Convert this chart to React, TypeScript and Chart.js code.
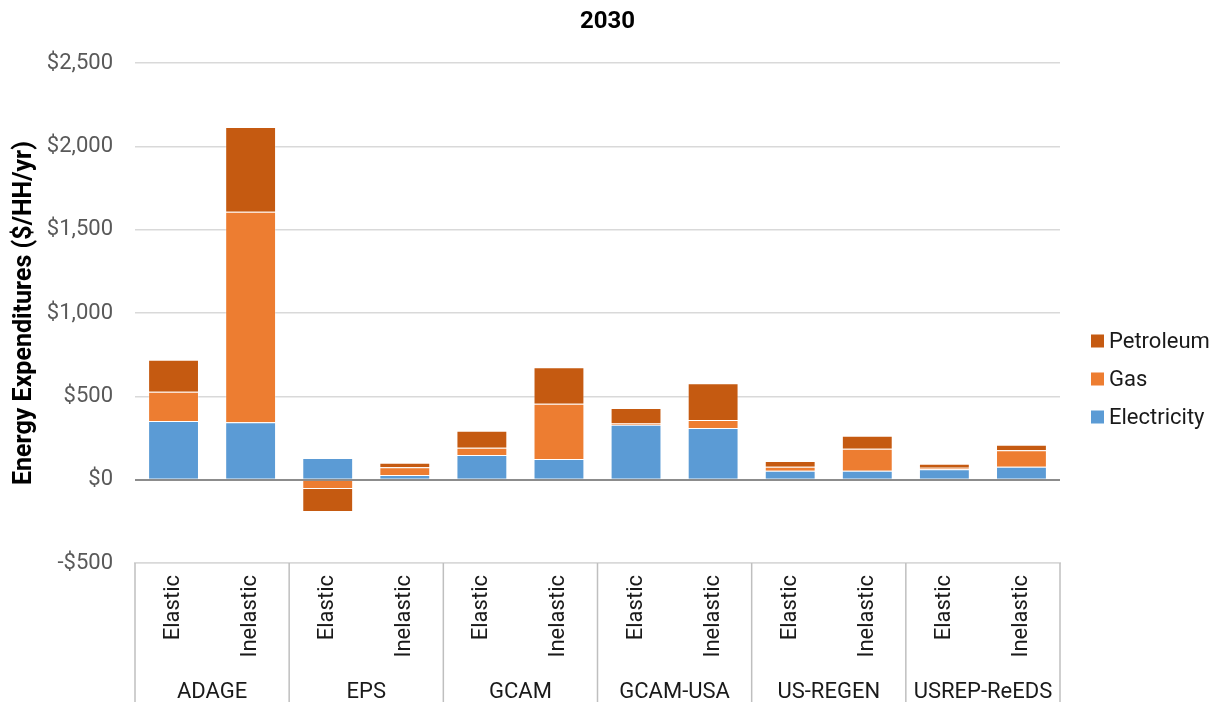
import React, { useEffect, useRef } from "react";
import { Chart, registerables } from "chart.js";

Chart.register(...registerables);

const categories = [
  "Elastic", "Inelastic", "Elastic", "Inelastic", "Elastic", "Inelastic",
  "Elastic", "Inelastic", "Elastic", "Inelastic", "Elastic", "Inelastic",
];
const groups = ["ADAGE", "EPS", "GCAM", "GCAM-USA", "US-REGEN", "USREP-ReEDS"];
const electricity = [352, 344, 130, 28, 148, 124, 330, 310, 54, 54, 62, 78];
const gas = [176, 1264, -56, 46, 44, 332, 10, 48, 24, 132, 10, 98];
const petroleum = [192, 508, -138, 28, 102, 218, 90, 220, 34, 78, 24, 34];
const yTicks = [-500, 0, 500, 1000, 1500, 2000, 2500];
const chartTitle = "2030";

const FONT = "Roboto, 'Noto Sans', sans-serif";

const groupPlugin = {
  id: "groupPlugin",
  afterDraw(chart: any) {
    const ctx = chart.ctx;
    const x = chart.scales.x;
    const area = chart.chartArea;
    const n = categories.length;
    const half = (x.getPixelForValue(1) - x.getPixelForValue(0)) / 2;
    const top = area.bottom;
    const bottom = chart.height;
    ctx.save();
    ctx.strokeStyle = "#bfbfbf";
    ctx.lineWidth = 1.5;
    for (let i = 0; i <= n; i += 2) {
      const px = i < n ? x.getPixelForValue(i) - half : x.getPixelForValue(n - 1) + half;
      ctx.beginPath();
      ctx.moveTo(px, top);
      ctx.lineTo(px, bottom);
      ctx.stroke();
    }
    ctx.fillStyle = "#1a1a1a";
    ctx.font = `22px ${FONT}`;
    ctx.textAlign = "center";
    ctx.textBaseline = "middle";
    groups.forEach((g, gi) => {
      const cx = (x.getPixelForValue(gi * 2) + x.getPixelForValue(gi * 2 + 1)) / 2;
      ctx.fillText(g, cx, 692);
    });

    // title centred on the full canvas
    ctx.fillStyle = "#000";
    ctx.font = `bold 24px ${FONT}`;
    ctx.fillText(chartTitle, chart.width / 2, 22);

    // legend (reverse order)
    const items = [...chart.data.datasets].reverse();
    ctx.font = `22px ${FONT}`;
    ctx.textAlign = "left";
    items.forEach((ds: any, i: number) => {
      const cy = 341 + i * 38;
      ctx.fillStyle = ds.backgroundColor;
      ctx.fillRect(1091, cy - 6.5, 13, 13);
      ctx.fillStyle = "#1a1a1a";
      ctx.fillText(ds.label, 1109, cy + 1);
    });
    ctx.restore();
  },
};

export default function App() {
  const ref = useRef<HTMLCanvasElement | null>(null);
  useEffect(() => {
    if (!ref.current) return;
    const chart = new Chart(ref.current, {
      type: "bar",
      data: {
        labels: categories,
        datasets: [
          { label: "Electricity", data: electricity, backgroundColor: "#5B9BD5", borderColor: "rgba(255,255,255,0.3)", borderWidth: 1 },
          { label: "Gas", data: gas, backgroundColor: "#ED7D31", borderColor: "rgba(255,255,255,0.3)", borderWidth: 1 },
          { label: "Petroleum", data: petroleum, backgroundColor: "#C55A11", borderColor: "rgba(255,255,255,0.3)", borderWidth: 1 },
        ],
      },
      options: {
        animation: false,
        responsive: true,
        maintainAspectRatio: false,
        layout: { padding: { left: 0, right: 155, top: 63, bottom: 0 } },
        datasets: { bar: { categoryPercentage: 1, barPercentage: 0.66 } },
        plugins: {
          title: { display: false },
          legend: { display: false },
          tooltip: { enabled: false },
        },
        scales: {
          x: {
            stacked: true,
            grid: { display: false, drawTicks: false },
            border: { display: true, color: "#d9d9d9", width: 1.5 },
            ticks: {
              color: "#1a1a1a",
              font: { family: FONT, size: 22 },
              minRotation: 90,
              maxRotation: 90,
              autoSkip: false,
              padding: 12,
            },
            afterFit: (s: any) => { s.height = 139; },
          },
          y: {
            stacked: true,
            min: yTicks[0],
            max: yTicks[yTicks.length - 1],
            afterBuildTicks: (s: any) => { s.ticks = yTicks.map((v) => ({ value: v })); },
            grid: {
              color: (c: any) => (c.tick && c.tick.value === 0 ? "#8c8c8c" : "#d9d9d9"),
              lineWidth: (c: any) => (c.tick && c.tick.value === 0 ? 2 : 1.5),
              drawTicks: false,
            },
            border: { display: false },
            ticks: {
              color: "#595959",
              font: { family: FONT, size: 22 },
              padding: 22,
              callback: (v: any) => (v < 0 ? "-$" : "$") + Math.abs(v).toLocaleString("en-US"),
            },
            title: {
              display: true,
              text: "Energy Expenditures ($/HH/yr)",
              color: "#000",
              font: { family: FONT, size: 25, weight: "bold" },
              padding: { top: 10, bottom: 0 },
            },
            afterFit: (s: any) => { s.width = 135; },
          },
        },
      },
      plugins: [groupPlugin],
    });
    return () => chart.destroy();
  }, []);
  return (
    <div style={{ position: "fixed", left: 0, top: 0, width: 1215, height: 702 }}>
      <canvas ref={ref} />
    </div>
  );
}
